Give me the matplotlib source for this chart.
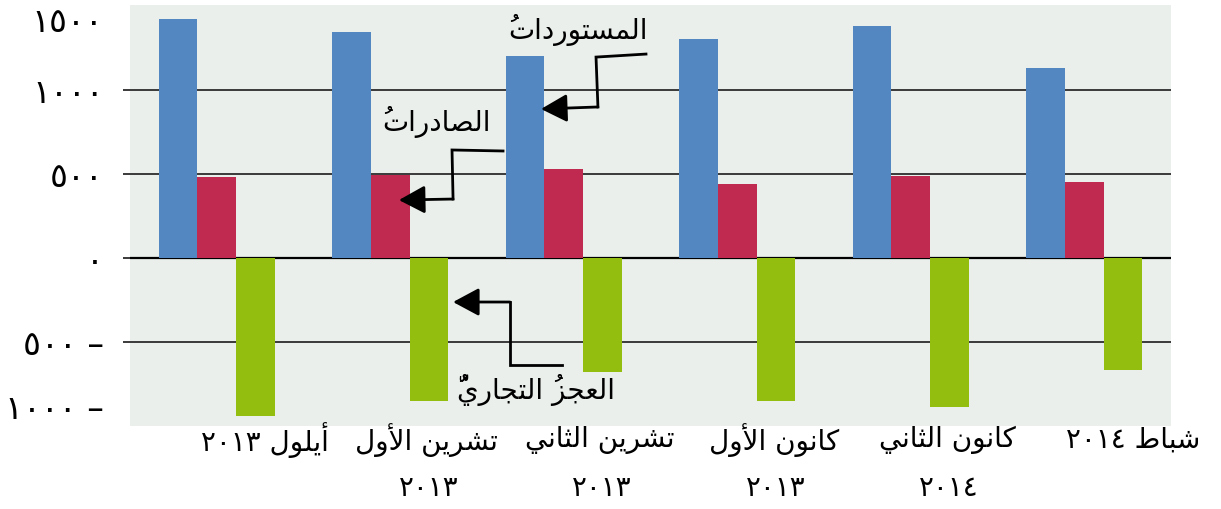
import matplotlib
matplotlib.use("Agg")
import numpy as np
import matplotlib.pyplot as plt

# الأشهر (سطر أول: الشهر، سطر ثان: السنة)
months = ["أيلول", "تشرين الأول", "تشرين الثاني", "كانون الأول", "كانون الثاني", "شباط"]
years = ["٢٠١٣", "٢٠١٣", "٢٠١٣", "٢٠١٣", "٢٠١٤", "٢٠١٤"]

# القيم كما قرئت من الرسم
imports = [1423, 1345, 1202, 1304, 1381, 1131]
exports = [482, 494, 530, 440, 488, 452]
deficit = [-940, -853, -680, -853, -886, -665]

series_names = ["المستورداتُ", "الصادراتُ", "العجزُ التجاريُّ"]
yvals = [1500, 1000, 500, 0, -500, -1000]

# --- تشكيل الحروف العربية يدويا (matplotlib لا يقوم بذلك) ---
# iso, final, initial, medial
FORMS = {
    'ا': ('\uFE8D', '\uFE8E', None, None),
    'أ': ('\uFE83', '\uFE84', None, None),
    'ب': ('\uFE8F', '\uFE90', '\uFE91', '\uFE92'),
    'ت': ('\uFE95', '\uFE96', '\uFE97', '\uFE98'),
    'ث': ('\uFE99', '\uFE9A', '\uFE9B', '\uFE9C'),
    'ج': ('\uFE9D', '\uFE9E', '\uFE9F', '\uFEA0'),
    'د': ('\uFEA9', '\uFEAA', None, None),
    'ر': ('\uFEAD', '\uFEAE', None, None),
    'ز': ('\uFEAF', '\uFEB0', None, None),
    'س': ('\uFEB1', '\uFEB2', '\uFEB3', '\uFEB4'),
    'ش': ('\uFEB5', '\uFEB6', '\uFEB7', '\uFEB8'),
    'ص': ('\uFEB9', '\uFEBA', '\uFEBB', '\uFEBC'),
    'ط': ('\uFEC1', '\uFEC2', '\uFEC3', '\uFEC4'),
    'ع': ('\uFEC9', '\uFECA', '\uFECB', '\uFECC'),
    'ك': ('\uFED9', '\uFEDA', '\uFEDB', '\uFEDC'),
    'ل': ('\uFEDD', '\uFEDE', '\uFEDF', '\uFEE0'),
    'م': ('\uFEE1', '\uFEE2', '\uFEE3', '\uFEE4'),
    'ن': ('\uFEE5', '\uFEE6', '\uFEE7', '\uFEE8'),
    'و': ('\uFEED', '\uFEEE', None, None),
    'ي': ('\uFEF1', '\uFEF2', '\uFEF3', '\uFEF4'),
}
LAM_ALEF = {'ا': ('\uFEFB', '\uFEFC'), 'أ': ('\uFEF7', '\uFEF8')}
HARAKAT = set('\u064B\u064C\u064D\u064E\u064F\u0650\u0651\u0652')
DIGITS = set('٠١٢٣٤٥٦٧٨٩0123456789')


def ar(text):
    clusters = []
    for ch in text:
        if ch in HARAKAT and clusters:
            clusters[-1][1] += ch
        else:
            clusters.append([ch, ''])
    merged = []
    i = 0
    while i < len(clusters):
        ch, marks = clusters[i]
        if ch == 'ل' and i + 1 < len(clusters) and clusters[i + 1][0] in LAM_ALEF:
            merged.append(['LA' + clusters[i + 1][0], marks + clusters[i + 1][1]])
            i += 2
        else:
            merged.append([ch, marks])
            i += 1

    def joins(c):
        return c is not None and (c in FORMS or c.startswith('LA'))

    glyphs = []
    for i, (ch, marks) in enumerate(merged):
        prev = merged[i - 1][0] if i > 0 else None
        nxt = merged[i + 1][0] if i + 1 < len(merged) else None
        jp = prev in FORMS and FORMS[prev][2] is not None
        if ch.startswith('LA'):
            g = LAM_ALEF[ch[2]][1 if jp else 0]
        elif ch in FORMS:
            iso, fin, ini, med = FORMS[ch]
            jn = ini is not None and joins(nxt)
            if jp and jn:
                g = med
            elif jn:
                g = ini
            elif jp:
                g = fin
            else:
                g = iso
        else:
            g = ch
        # الحركة قبل الحرف في الترتيب البصري حتى تقع فوقه
        glyphs.append(marks + g)

    # ترتيب بصري: عكس الحروف مع إبقاء الأرقام من اليسار إلى اليمين
    units = []
    for g in glyphs:
        if g in DIGITS and units and units[-1][-1] in DIGITS:
            units[-1] += g
        else:
            units.append(g)
    return ''.join(reversed(units))


def ar_num(v):
    s = str(abs(v)).translate(str.maketrans('0123456789', '٠١٢٣٤٥٦٧٨٩'))
    return s + ' –' if v < 0 else s


plt.rcParams['font.family'] = ['DejaVu Sans']

fig = plt.figure(figsize=(12.21, 5.09), dpi=100)
ax = fig.add_axes([130 / 1221, 1 - 426 / 509, 1041 / 1221, 421 / 509])
ax.set_facecolor('#EAEFEB')

x = np.arange(len(months))
w = 0.222
ax.bar(x - w, imports, w, color='#5387C1', zorder=3)
ax.bar(x, exports, w, color='#C02A50', zorder=3)
ax.bar(x + w, deficit, w, color='#93BE0F', zorder=3)

ax.set_xlim(-0.5, 5.5)
ax.set_ylim(-1000, 1506)

for v in [1000, 500, -500]:
    ax.axhline(v, color='#3A3A3A', lw=1.4, zorder=1)
ax.axhline(0, color='black', lw=1.6, zorder=2)

ax.set_yticks(yvals)
ax.set_yticklabels([ar_num(v) for v in yvals], fontsize=24)
ax.tick_params(axis='y', length=5, width=1.4, color='#3A3A3A', pad=14)
ticks = ax.yaxis.get_major_ticks()
for t in (ticks[0], ticks[-1]):
    t.tick1line.set_visible(False)
ticks[0].label1.set_va('top')
ticks[-1].label1.set_va('bottom')
ax.set_xticks([])
for s in ax.spines.values():
    s.set_visible(False)

# تسميات المحور الأفقي
trans = ax.get_xaxis_transform()
for i, (m, yr) in enumerate(zip(months, years)):
    if i in (0, len(months) - 1):
        ax.text(i + 0.28, -0.033, ar(m + ' ' + yr), transform=trans, ha='center',
                va='center', fontsize=20, clip_on=False)
    else:
        ax.text(i + 0.21, -0.033, ar(m), transform=trans, ha='center',
                va='center', fontsize=20, clip_on=False)
        ax.text(i + 0.22, -0.147, ar(yr), transform=trans, ha='center',
                va='center', fontsize=20, clip_on=False)

# أسهم التسميات
arrows = [
    # (مسار الخط, رأس السهم, موضع النص, النص)
    ([(2.474, 1214), (2.186, 1196), (2.197, 899)], (1.869, 887), (2.082, 1357), series_names[0]),
    ([(1.650, 637), (1.356, 643), (1.362, 351)], (1.050, 345), (1.269, 810), series_names[1]),
    ([(1.990, -637), (1.690, -637), (1.690, -262)], (1.362, -262), (1.840, -786), series_names[2]),
]
for path, tip, pos, name in arrows:
    px, py = zip(*path)
    ax.plot(px, py, color='black', lw=2, zorder=5, solid_joinstyle='miter')
    ax.annotate('', xy=tip, xytext=path[-1],
                arrowprops=dict(arrowstyle='-|>,head_length=1.6,head_width=0.86',
                                color='black', lw=2, shrinkA=0, shrinkB=0),
                zorder=5)
    ax.text(pos[0], pos[1], ar(name), ha='center', va='center', fontsize=20, zorder=6)

fig.savefig('out.png', dpi=100)
